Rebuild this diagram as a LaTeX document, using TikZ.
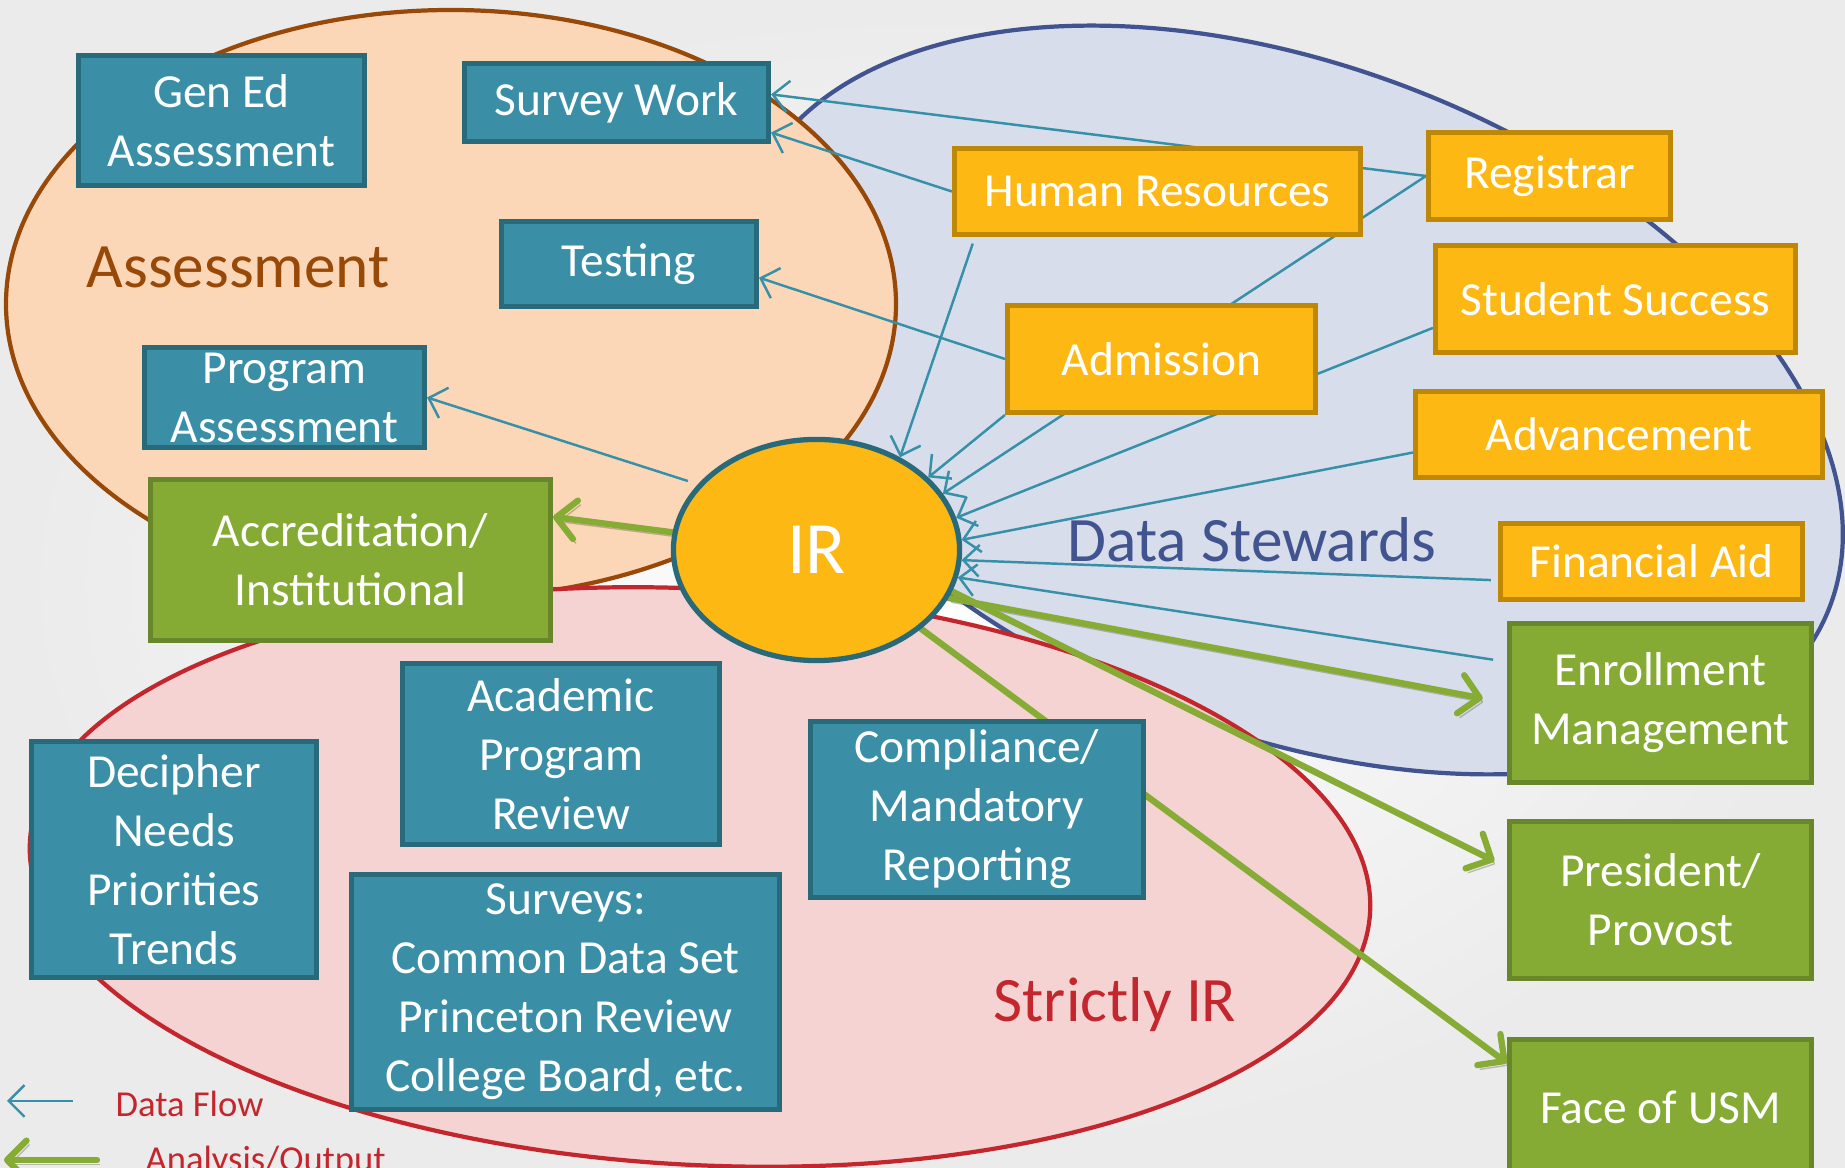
\documentclass[tikz,border=0pt]{standalone}
\usepackage{fontspec}
\setmainfont{Carlito}
\usetikzlibrary{arrows.meta,shapes.geometric}
\definecolor{peachfill}{HTML}{FBD7B8}
\definecolor{peachline}{HTML}{984807}
\definecolor{stewfill}{HTML}{D7DDEA}
\definecolor{stewline}{HTML}{42548F}
\definecolor{irfill}{HTML}{F4D3D2}
\definecolor{irline}{HTML}{C3272D}
\definecolor{boxteal}{HTML}{3A8FA7}
\definecolor{boxtealdark}{HTML}{28697A}
\definecolor{boxgold}{HTML}{FDB813}
\definecolor{boxgolddark}{HTML}{BF8804}
\definecolor{boxgreen}{HTML}{85AB35}
\definecolor{boxgreendark}{HTML}{68862A}
\definecolor{flowteal}{HTML}{3590A8}
\definecolor{outgreen}{HTML}{86AC36}
\pgfdeclarelayer{regions}
\pgfdeclarelayer{links}
\pgfsetlayers{regions,links,main}

\begin{document}
\begin{tikzpicture}[x=0.01cm, y=-0.01cm,
    unit/.style={draw, line width=1.4pt, text=white, align=center, inner sep=0pt,
      font=\fontsize{13.5}{16.8}\selectfont},
    tealbox/.style={unit, fill=boxteal, draw=boxtealdark},
    goldbox/.style={unit, fill=boxgold, draw=boxgolddark},
    greenbox/.style={unit, fill=boxgreen, draw=boxgreendark},
    region/.style={anchor=base west, inner sep=0pt, font=\fontsize{18}{22}\selectfont},
    legend/.style={anchor=base west, inner sep=0pt, text=irline, font=\fontsize{10.4}{12}\selectfont},
    flow/.style={draw=flowteal, line width=0.7pt, -{Straight Barb[length=4.5pt,width=9pt]}},
    output/.style={draw=outgreen, line width=1.8pt, line cap=round,
      -{Straight Barb[length=5.5pt,width=11pt,round]},
      preaction={draw=black, opacity=0.22, transform canvas={xshift=0.8pt,yshift=-1.2pt}}}]
    \useasboundingbox (0,0) rectangle (1845,1168);

    \node[tealbox, minimum width=2.86cm, minimum height=1.30cm] (genEd) at (221.5,120.5) {Gen Ed\\Assessment};
    \node[tealbox, minimum width=3.04cm, minimum height=0.78cm] (survey) at (616.5,102.5) {Survey Work};
    \node[tealbox, minimum width=2.55cm, minimum height=0.85cm] (testing) at (629,264) {Testing};
    \node[tealbox, minimum width=2.80cm, minimum height=1.00cm] (progAssess) at (284.5,397.5) {Program\\Assessment};
    \node[tealbox, minimum width=2.85cm, minimum height=2.36cm] (decipher) at (174,859.5) {Decipher\\Needs\\Priorities\\Trends};
    \node[tealbox, minimum width=3.17cm, minimum height=1.81cm] (acadReview) at (561,754) {Academic\\Program\\Review};
    \node[tealbox, minimum width=4.28cm, minimum height=2.35cm] (surveys) at (565.5,992) {Surveys:\\Common Data Set\\Princeton Review\\College Board, etc.};
    \node[tealbox, minimum width=3.33cm, minimum height=1.76cm] (compliance) at (977,809.5) {Compliance/\\Mandatory\\Reporting};

    \node[goldbox, minimum width=4.06cm, minimum height=0.86cm] (hr) at (1157.5,191.5) {Human Resources};
    \node[goldbox, minimum width=2.42cm, minimum height=0.87cm] (registrar) at (1549.5,176) {Registrar};
    \node[goldbox, minimum width=3.08cm, minimum height=1.07cm] (admission) at (1161.5,359) {Admission};
    \node[goldbox, minimum width=3.60cm, minimum height=1.07cm] (studentSuccess) at (1615.5,299) {Student Success};
    \node[goldbox, minimum width=4.07cm, minimum height=0.86cm] (advancement) at (1619,434.5) {Advancement};
    \node[goldbox, minimum width=3.02cm, minimum height=0.76cm] (finAid) at (1651.5,561.5) {Financial Aid};

    \node[greenbox, minimum width=4.00cm, minimum height=1.61cm] (accred) at (350.5,560) {Accreditation/\\Institutional};
    \node[greenbox, minimum width=3.02cm, minimum height=1.59cm] (enroll) at (1660.5,703) {Enrollment\\Management};
    \node[greenbox, minimum width=3.02cm, minimum height=1.57cm] (president) at (1660.5,900) {President/\\Provost};
    \node[greenbox, minimum width=3.02cm, minimum height=1.35cm] (faceUSM) at (1660.5,1107) {Face of USM};

    \node[ellipse, draw=boxtealdark, line width=1.5pt, fill=boxgold, text=white, inner sep=0pt,
      minimum width=2.86cm, minimum height=2.21cm, font=\fontsize{21}{25}\selectfont] (ir) at (816.5,550) {IR};

    \begin{pgfonlayer}{regions}
        \shade[inner color=white, outer color=black!8] (0,0) rectangle (1845,1168);
        \draw[stewline, line width=1.2pt, fill=stewfill, shift={(1290,400)}, rotate=-21] (0,0) ellipse (578 and 334);
        \draw[peachline, line width=1.2pt, fill=peachfill] (451,304) ellipse (445 and 294);
        \draw[irline, line width=1.2pt, fill=irfill, shift={(700,877)}, rotate=-3] (0,0) ellipse (671 and 288);
        \node[region, text=peachline] (assessLbl) at (86,288) {Assessment};
        \node[region, text=stewline] (stewLbl) at (1067,562) {Data Stewards};
        \node[region, text=irline] (strictLbl) at (993,1022) {Strictly IR};
        \node[legend] (flowLbl) at (115,1117) {Data Flow};
        \node[legend] (outLbl) at (145,1172) {Analysis/Output};
    \end{pgfonlayer}

    \begin{pgfonlayer}{links}
        \draw[flow] (registrar.west) -- (survey.3);
        \draw[flow] (hr.west) -- (survey.-11);
        \draw[flow, shorten <=2pt] (hr.194) -- (ir.48);
        \draw[flow] (admission.west) -- (testing.-6);
        \draw[flow] (admission.south west) -- (ir.33);
        \draw[flow] (registrar.west) -- (ir.24);
        \draw[flow] (studentSuccess.189) -- (ir.13);
        \draw[flow] (advancement.185) -- (ir.4);
        \draw[flow, shorten <=2pt] (finAid.187) -- (ir.-4);
        \draw[flow, shorten <=4pt] (enroll.165) -- (ir.-11);
        \draw[flow, shorten <=3pt] (ir.151) -- (progAssess.east);
        \draw[output] (ir.173) -- (accred.12);
        \draw[output, shorten >=7pt] (ir.-20) -- (enroll.west);
        \draw[output, shorten >=4pt] (ir.-17) -- (president.168);
        \draw[output] (ir.-37) -- (faceUSM.164);
        \coordinate (flowTail) at (73,1101);
        \coordinate (flowHead) at (7,1101);
        \coordinate (outTail) at (97,1160);
        \coordinate (outHead) at (4,1160);
        \draw[flow] (flowTail) -- (flowHead);
        \draw[output] (outTail) -- (outHead);
    \end{pgfonlayer}
\end{tikzpicture}
\end{document}
